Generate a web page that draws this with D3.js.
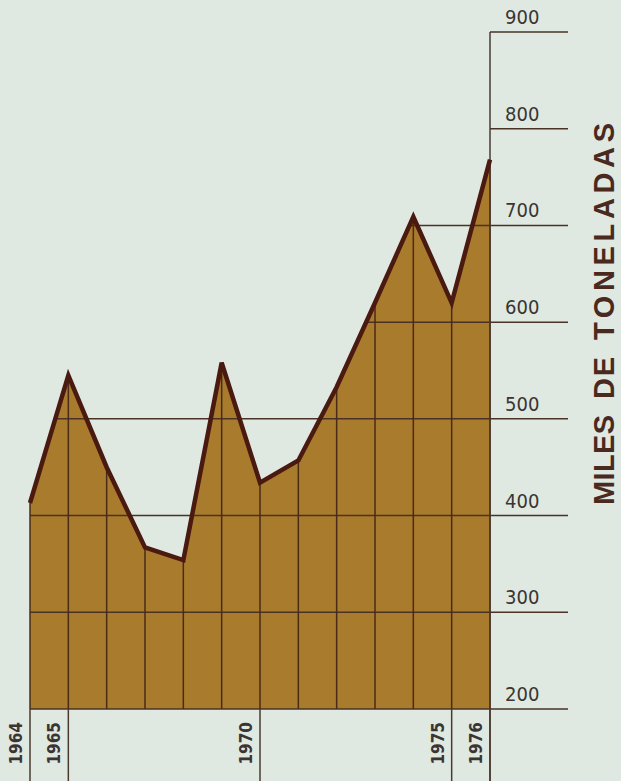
<!DOCTYPE html>
<html>
<head>
<meta charset="utf-8">
<script src="https://cdn.jsdelivr.net/npm/d3@7/dist/d3.min.js"></script>
<style>
  html, body { margin: 0; padding: 0; background: #dfe9e1; }
  svg { display: block; }
</style>
</head>
<body>
<svg id="chart" width="621" height="781"></svg>
<script>
// ---- data ----
const years  = [1964, 1965, 1966, 1967, 1968, 1969, 1970, 1971, 1972, 1973, 1974, 1975, 1976];
const values = [413, 545, 450, 367, 354, 558, 434, 457, 533, 620, 709, 620, 768];
const yTicks = [200, 300, 400, 500, 600, 700, 800, 900];
const yearLabels = [1964, 1965, 1970, 1975, 1976];
const axisTitleWords = ["MILES", "DE", "TONELADAS"];

// ---- layout ----
const W = 621, H = 781;
const svg = d3.select("#chart");
svg.append("rect").attr("width", W).attr("height", H).attr("fill", "#dfe9e1");

const x = d3.scaleLinear().domain([1964, 1976]).range([30, 490]);
const y = d3.scaleLinear().domain([200, 900]).range([709, 32]);
const tickRight = 568;

const data = years.map((yr, i) => ({ yr, v: values[i] }));

// area fill
const area = d3.area()
  .x(d => x(d.yr))
  .y0(y(200))
  .y1(d => y(d.v));
svg.append("path").datum(data)
  .attr("d", area)
  .attr("fill", "#a97b2d");

// horizontal grid lines: start where the data first reaches the level
function firstCrossing(v) {
  if (values[0] >= v) return x(years[0]);
  for (let i = 0; i < values.length - 1; i++) {
    const a = values[i], b = values[i + 1];
    if (a < v && b >= v) {
      const t = (v - a) / (b - a);
      return x(years[i] + t * (years[i + 1] - years[i]));
    }
  }
  return x(years[years.length - 1]);
}
svg.append("g").selectAll("line").data(yTicks).join("line")
  .attr("x1", d => d === 200 ? x(years[0]) : firstCrossing(d))
  .attr("x2", tickRight)
  .attr("y1", d => y(d)).attr("y2", d => y(d))
  .attr("stroke", "#4a3226").attr("stroke-width", 1.5);

// vertical year lines inside the area
svg.append("g").selectAll("line").data(data).join("line")
  .attr("x1", d => x(d.yr)).attr("x2", d => x(d.yr))
  .attr("y1", y(200)).attr("y2", d => y(d.v))
  .attr("stroke", "#4a2a18").attr("stroke-width", 1.5);

// vertical lines below the baseline for labelled years
svg.append("g").selectAll("line").data(yearLabels).join("line")
  .attr("x1", d => x(d)).attr("x2", d => x(d))
  .attr("y1", y(200)).attr("y2", H)
  .attr("stroke", "#4a3a30").attr("stroke-width", 1.5);

// right vertical axis
svg.append("line")
  .attr("x1", x(1976)).attr("x2", x(1976))
  .attr("y1", y(900)).attr("y2", H)
  .attr("stroke", "#4a3a30").attr("stroke-width", 1.5);

// outline of the series
const line = d3.line().x(d => x(d.yr)).y(d => y(d.v));
svg.append("path").datum(data)
  .attr("d", line)
  .attr("fill", "none")
  .attr("stroke", "#4a1a10")
  .attr("stroke-width", 4.5)
  .attr("stroke-linejoin", "miter");

// tick labels
svg.append("g").selectAll("text").data(yTicks).join("text")
  .attr("x", 505)
  .attr("y", d => y(d) - 8)
  .attr("font-family", "'DejaVu Sans Condensed', 'DejaVu Sans', sans-serif")
  .attr("font-stretch", "condensed")
  .attr("font-size", 20)
  .attr("fill", "#3a3532")
  .text(d => d);

// year labels (rotated)
svg.append("g").selectAll("text").data(yearLabels).join("text")
  .attr("transform", d => `translate(${x(d) - 8}, 722) rotate(-90)`)
  .attr("text-anchor", "end")
  .attr("font-family", "'DejaVu Sans Condensed', 'DejaVu Sans', sans-serif")
  .attr("font-stretch", "condensed")
  .attr("font-weight", "bold")
  .attr("font-size", 17)
  .attr("fill", "#3a3532")
  .text(d => d);

// axis title, word by word (rotated)
const titleSpans = [
  { w: axisTitleWords[0], start: 505, len: 90 },
  { w: axisTitleWords[1], start: 399, len: 42 },
  { w: axisTitleWords[2], start: 340, len: 217 }
];
svg.append("g").selectAll("text").data(titleSpans).join("text")
  .attr("transform", d => `translate(614, ${d.start}) rotate(-90)`)
  .attr("font-family", "'Liberation Sans', Arial, sans-serif")
  .attr("font-size", 29)
  .attr("font-weight", "bold")
  .attr("fill", "#4a2a1e")
  .attr("textLength", d => d.len)
  .attr("lengthAdjust", "spacing")
  .text(d => d.w);
</script>
</body>
</html>
